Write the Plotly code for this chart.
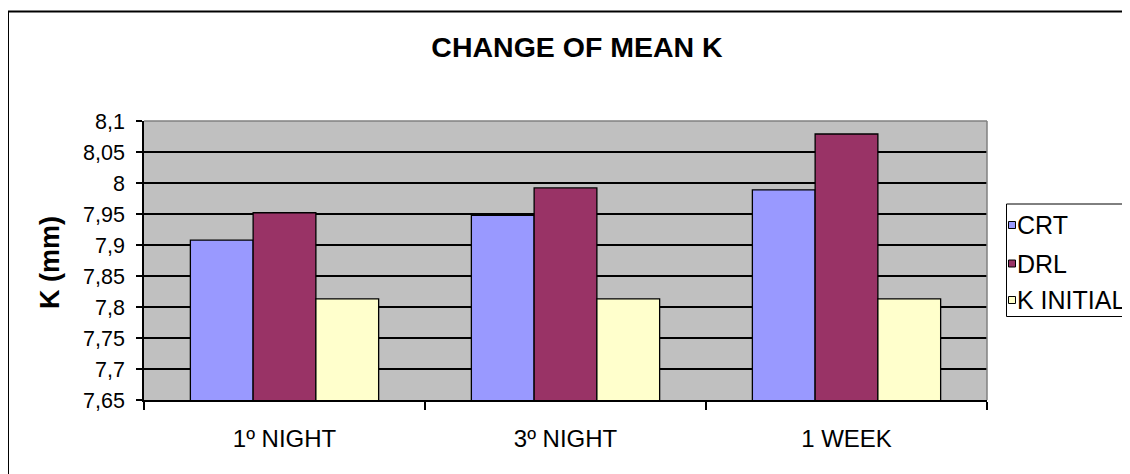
import plotly.graph_objects as go

# ---- data ----
categories = ["1º NIGHT", "3º NIGHT", "1 WEEK"]
series_names = ["CRT", "DRL", "K INITIAL"]
crt = [7.908, 7.948, 7.989]
drl = [7.952, 7.992, 8.079]
k_initial = [7.813, 7.813, 7.813]
y_tickvals = [7.65, 7.70, 7.75, 7.80, 7.85, 7.90, 7.95, 8.00, 8.05, 8.10]
y_ticktext = ["7,65", "7,7", "7,75", "7,8", "7,85", "7,9", "7,95", "8", "8,05", "8,1"]
colors = ["#9999FF", "#993366", "#FFFFCC"]

# The page body adds an 8px offset; the figure is sized to fit inside the window.
OFF = 8
W, H = 1130 - OFF, 474 - OFF
L, R, T, B = 144, 987, 121, 400  # plot area in screen pixels


def px(x):
    return (x - L) / (R - L)


def py(y):
    return (B - y) / (B - T)


FONT = "Arial, Liberation Sans, sans-serif"

fig = go.Figure()
for name, vals, col in zip(series_names, [crt, drl, k_initial], colors):
    fig.add_trace(go.Bar(
        x=categories, y=vals, name=name,
        marker=dict(color=col, line=dict(color="black", width=1.3)),
        showlegend=False,
    ))

shapes = [
    # outer chart frame
    dict(type="rect", xref="paper", yref="paper", x0=px(8), x1=px(1145), y0=py(11.5), y1=py(490),
         line=dict(color="black", width=2), fillcolor="rgba(0,0,0,0)", layer="above"),
    # plot-area top and right borders (grey)
    dict(type="line", xref="paper", yref="paper", x0=0, x1=1, y0=1, y1=1,
         line=dict(color="#808080", width=1.5), layer="above"),
    dict(type="line", xref="paper", yref="paper", x0=1, x1=1, y0=0, y1=1,
         line=dict(color="#808080", width=1.5), layer="above"),
    # legend box
    dict(type="rect", xref="paper", yref="paper", x0=px(1006.5), x1=px(1150), y0=py(316.5), y1=py(204),
         line=dict(color="black", width=1), fillcolor="white", layer="above"),
]

annotations = [
    dict(text="<b>K (mm)</b>", textangle=-90, xref="paper", yref="paper",
         x=px(50), y=py(263), xanchor="center", yanchor="middle", showarrow=False,
         font=dict(family=FONT, size=27, color="black")),
]

legend_y = [225, 263.5, 300]
for name, col, yc in zip(series_names, colors, legend_y):
    shapes.append(dict(type="rect", xref="paper", yref="paper",
                       x0=px(1008.5), x1=px(1015.5), y0=py(yc + 3.5), y1=py(yc - 3.5),
                       line=dict(color="black", width=1), fillcolor=col, layer="above"))
    annotations.append(dict(text=name, xref="paper", yref="paper", x=px(1015), y=py(yc),
                            xanchor="left", yanchor="middle", showarrow=False,
                            font=dict(family=FONT, size=25, color="black")))

fig.update_layout(
    width=W, height=H,
    margin=dict(l=L - OFF, r=W - (R - OFF), t=T - OFF, b=H - (B - OFF), autoexpand=False),
    paper_bgcolor="white",
    plot_bgcolor="#C0C0C0",
    barmode="group", bargap=0.33, bargroupgap=0,
    title=dict(text="<b>CHANGE OF MEAN K</b>", x=(577 - OFF) / W, xref="container", xanchor="center",
               y=1 - (47 - OFF) / H, yref="container", yanchor="middle",
               font=dict(family=FONT, size=28.5, color="black")),
    font=dict(family=FONT, color="black"),
    shapes=shapes,
    annotations=annotations,
    showlegend=False,
)

fig.update_xaxes(
    type="category", showline=True, linecolor="black", linewidth=1.5,
    ticks="outside", tickson="boundaries", ticklen=8, tickwidth=1.5, tickcolor="black",
    showgrid=False, tickfont=dict(family=FONT, size=24, color="black"),
    ticklabelstandoff=16,
)
fig.update_yaxes(
    range=[7.65, 8.1], tickvals=y_tickvals, ticktext=y_ticktext,
    showline=True, linecolor="black", linewidth=1.5,
    ticks="outside", ticklen=6, tickwidth=1.5, tickcolor="black",
    showgrid=True, gridcolor="black", gridwidth=1.8, zeroline=False,
    tickfont=dict(family=FONT, size=21.5, color="black"),
    ticklabelstandoff=7,
)

fig.write_html("out.html", config=dict(displayModeBar=False))
